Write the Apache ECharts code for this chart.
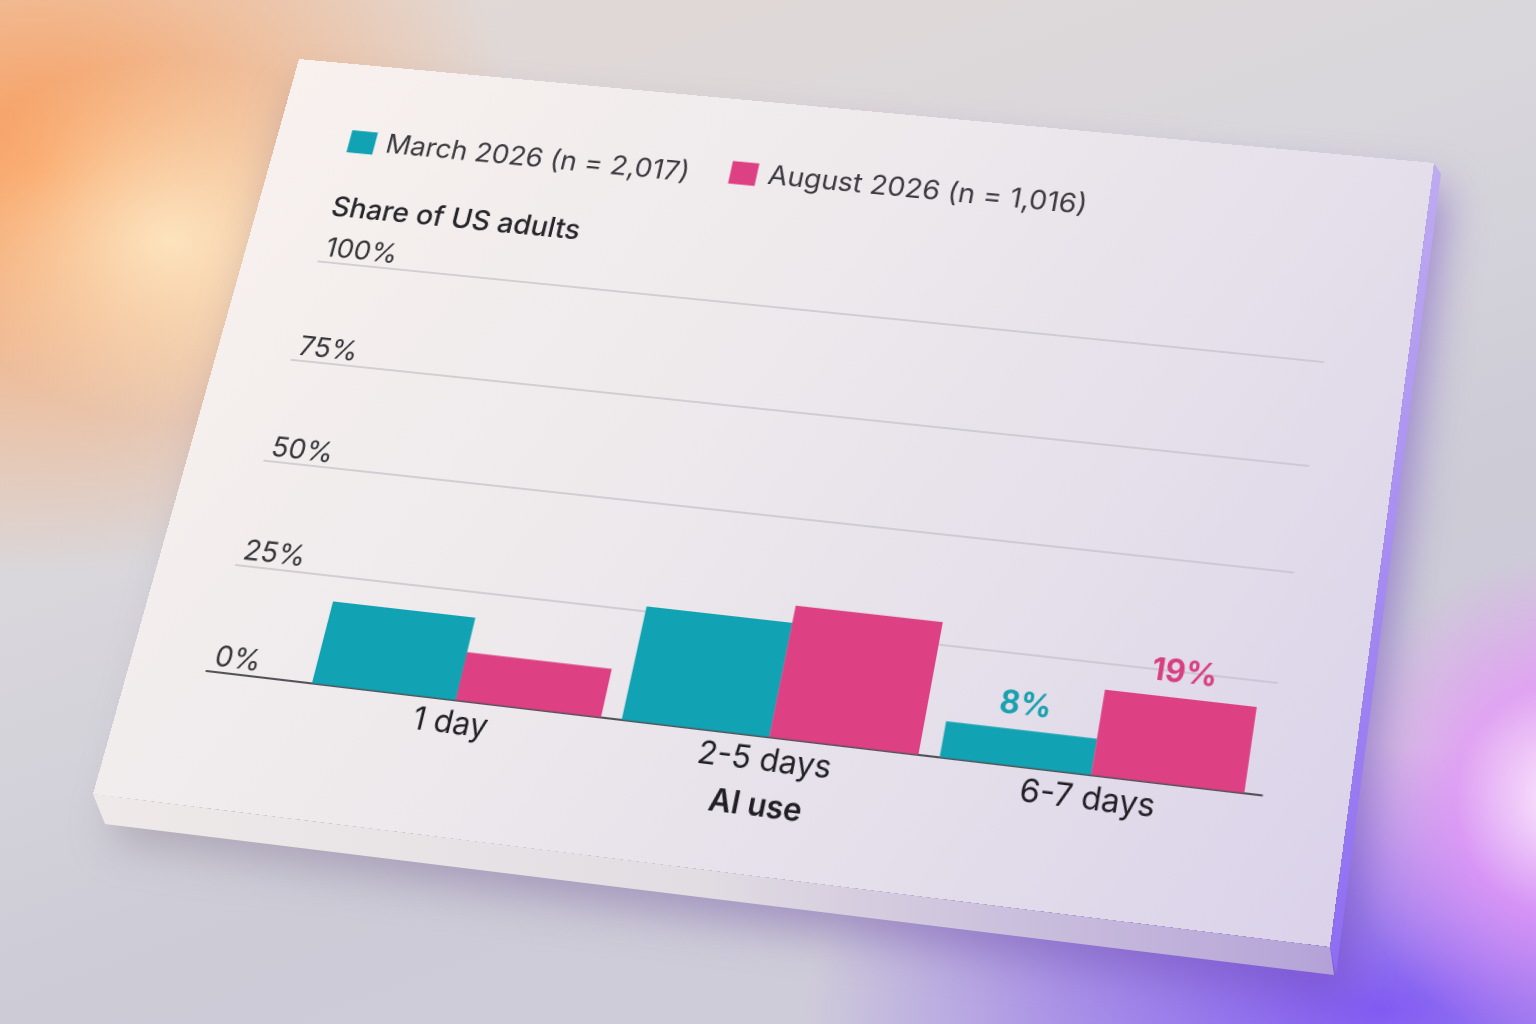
<!DOCTYPE html>
<html>
<head>
<meta charset="utf-8">
<script src="https://cdn.jsdelivr.net/npm/echarts@6/dist/echarts.min.js"></script>
<style>
html,body{margin:0;padding:0;width:1536px;height:1024px;overflow:hidden;}
body{
  position:relative;
  background:
    radial-gradient(ellipse 330px 260px at 170px 240px, rgba(255,236,200,0.85), rgba(255,220,170,0) 70%),
    radial-gradient(ellipse 620px 520px at 40px 170px, rgba(250,150,80,0.95), rgba(250,170,110,0.55) 40%, rgba(240,190,160,0) 78%),
    radial-gradient(ellipse 300px 330px at 1560px 800px, rgba(255,235,255,0.95), rgba(230,150,250,0.75) 35%, rgba(200,140,250,0) 75%),
    radial-gradient(ellipse 720px 330px at 1380px 1010px, rgba(125,85,245,0.95), rgba(140,100,240,0.55) 45%, rgba(160,130,235,0) 80%),
    linear-gradient(160deg, #e4d9d3 0%, #d9d7dc 38%, #cccbd6 65%, #d2cddd 100%);
}
#shadowWrap{position:absolute;left:0;top:0;width:1536px;height:1024px;filter:blur(22px);}
#shadow{position:absolute;left:0;top:0;width:1536px;height:1024px;
  clip-path:polygon(300px 90px,1445px 190px,1345px 1000px,110px 840px);
  background:linear-gradient(to right, rgba(120,110,110,0.35), rgba(110,70,200,0.6));}
#edgeB{position:absolute;left:0;top:0;width:1536px;height:1024px;
  clip-path:polygon(93px 794px,1330px 947px,1334px 975px,105px 824px);
  background:linear-gradient(to right,#f1ecea 0%,#e2dde2 45%,#b6a5d8 85%,#9a84dc 100%);}
#edgeR{position:absolute;left:0;top:0;width:1536px;height:1024px;
  clip-path:polygon(1434px 163px,1441px 174px,1336px 974px,1330px 947px);
  background:linear-gradient(#c8b8f0,#8a68f2);}
#card{position:absolute;left:0;top:0;width:1200px;height:780px;transform-origin:0 0;
  background:linear-gradient(118deg,#f8f1ee 0%,#eeeaec 40%,#e4dfea 72%,#dbd2ea 100%);}
#chart{position:absolute;left:0;top:0;width:1200px;height:780px;}
</style>
</head>
<body>
<div id="shadowWrap"><div id="shadow"></div></div>
<div id="edgeB"></div>
<div id="edgeR"></div>
<div id="card"><div id="chart"></div></div>
<script>
// ---- data ----
const categories = ['1 day', '2-5 days', '6-7 days'];
const seriesNames = ['March 2026 (n = 2,017)', 'August 2026 (n = 1,016)'];
const marchValues = [19, 26, 8];
const augustValues = [11, 30, 19];
const yTicks = [0, 25, 50, 75, 100];
const labeledCategory = '6-7 days';
const yAxisTitle = 'Share of US adults';
const xAxisTitle = 'AI use';

// ---- layout (card plane seen in perspective) ----
const CW = 1200, CH = 780;
const cardCorners = [[299, 59], [1434, 163], [1330, 947], [93, 794]];
const anchors = {
  gridTL: [315, 263], gridTR: [1322, 359], gridBR: [1265, 793], gridBL: [208, 673],
  firstBarLeft: [312, 683], lastBarRight: [1245, 789], gapLeft: [597, 716], gapRight: [618, 717],
  legend1: [350, 139], legend2: [731, 170],
  yTitle: [332, 207], catLabel: [758, 760], xTitle: [752, 806]
};

function solve(A, b) {
  const n = b.length;
  const M = A.map((r, i) => r.concat([b[i]]));
  for (let c = 0; c < n; c++) {
    let p = c;
    for (let r = c + 1; r < n; r++) if (Math.abs(M[r][c]) > Math.abs(M[p][c])) p = r;
    const t = M[c]; M[c] = M[p]; M[p] = t;
    for (let r = 0; r < n; r++) {
      if (r === c) continue;
      const f = M[r][c] / M[c][c];
      for (let k = c; k <= n; k++) M[r][k] -= f * M[c][k];
    }
  }
  return M.map((row, i) => row[n] / row[i]);
}
function homog(src, dst) {
  const A = [], b = [];
  for (let i = 0; i < 4; i++) {
    const [x, y] = src[i], [u, v] = dst[i];
    A.push([x, y, 1, 0, 0, 0, -u * x, -u * y]); b.push(u);
    A.push([0, 0, 0, x, y, 1, -v * x, -v * y]); b.push(v);
  }
  const h = solve(A, b); h.push(1); return h;
}
function applyH(h, p) {
  const x = p[0], y = p[1];
  const w = h[6] * x + h[7] * y + h[8];
  return [(h[0] * x + h[1] * y + h[2]) / w, (h[3] * x + h[4] * y + h[5]) / w];
}
const localCorners = [[0, 0], [CW, 0], [CW, CH], [0, CH]];
const H = homog(localCorners, cardCorners);
const Hinv = homog(cardCorners, localCorners);
document.getElementById('card').style.transform =
  `matrix3d(${H[0]},${H[3]},0,${H[6]},${H[1]},${H[4]},0,${H[7]},0,0,1,0,${H[2]},${H[5]},0,${H[8]})`;

const P = {};
for (const k in anchors) P[k] = applyH(Hinv, anchors[k]);
const gridLeft = (P.gridTL[0] + P.gridBL[0]) / 2;
const gridRight = (P.gridTR[0] + P.gridBR[0]) / 2;
const gridTop = (P.gridTL[1] + P.gridTR[1]) / 2;
const gridBottom = (P.gridBL[1] + P.gridBR[1]) / 2;
const gap = P.gapRight[0] - P.gapLeft[0];
const plotLeft = P.firstBarLeft[0] - gap / 2;
const plotRight = P.lastBarRight[0] + gap / 2;
const plotW = plotRight - plotLeft;
const gapPct = (gap / (plotW / 3) * 100).toFixed(1) + '%';

const TEAL = '#11a3b3', PINK = '#de4183';
const FONT = 'Inter, "Noto Sans", sans-serif';
const LEG_H = 25;

const chart = echarts.init(document.getElementById('chart'), null, { renderer: 'canvas', devicePixelRatio: 2 });
const labelIdx = categories.indexOf(labeledCategory);
const mk = vals => vals.map((v, i) => ({ value: v, label: { show: i === labelIdx } }));
const legendText = { fontSize: 29.5, color: '#3b3a40', padding: [0, 0, 0, 7], lineHeight: LEG_H, fontFamily: FONT };

chart.setOption({
  animation: false,
  textStyle: { fontFamily: FONT },
  legend: [
    { data: [seriesNames[0]], left: P.legend1[0], top: P.legend1[1] - LEG_H / 2, icon: 'rect', itemWidth: 28, itemHeight: LEG_H, padding: 0, textStyle: legendText },
    { data: [seriesNames[1]], left: P.legend2[0], top: P.legend2[1] - LEG_H / 2, icon: 'rect', itemWidth: 28, itemHeight: LEG_H, padding: 0, textStyle: legendText }
  ],
  graphic: [{
    type: 'text', x: P.yTitle[0], y: P.yTitle[1],
    style: { text: yAxisTitle, fontSize: 30, fontWeight: 500, fill: '#26262b', fontFamily: FONT, align: 'left', verticalAlign: 'middle' }
  }],
  grid: [
    { left: plotLeft, right: CW - plotRight, top: gridTop, bottom: CH - gridBottom },
    { left: gridLeft, right: CW - gridRight, top: gridTop, bottom: CH - gridBottom }
  ],
  xAxis: [
    { type: 'category', gridIndex: 0, data: categories,
      axisLine: { show: false }, axisTick: { show: false },
      axisLabel: { fontSize: 31, color: '#1f1f24', margin: P.catLabel[1] - gridBottom, verticalAlign: 'middle', fontFamily: FONT },
      name: xAxisTitle, nameLocation: 'middle', nameGap: P.xTitle[1] - gridBottom,
      nameTextStyle: { fontSize: 30, fontWeight: 600, color: '#1f1f24', verticalAlign: 'middle', fontFamily: FONT } },
    { type: 'value', gridIndex: 1, min: 0, max: 1, show: true,
      axisLine: { show: true, onZero: false, lineStyle: { color: '#525259', width: 2 } },
      axisTick: { show: false }, axisLabel: { show: false }, splitLine: { show: false } }
  ],
  yAxis: [
    { type: 'value', gridIndex: 0, min: yTicks[0], max: yTicks[yTicks.length - 1], interval: yTicks[1] - yTicks[0], show: false, splitLine: { show: false } },
    { type: 'value', gridIndex: 1, min: yTicks[0], max: yTicks[yTicks.length - 1], interval: yTicks[1] - yTicks[0],
      axisLine: { show: false }, axisTick: { show: false },
      axisLabel: { inside: true, align: 'left', verticalAlign: 'bottom', margin: 5, fontSize: 29, color: '#35353a', formatter: '{value}%', fontFamily: FONT },
      splitLine: { lineStyle: { color: '#c6c3cb', width: 1.5 } } }
  ],
  series: [
    { name: seriesNames[0], type: 'bar', xAxisIndex: 0, yAxisIndex: 0, data: mk(marchValues),
      itemStyle: { color: TEAL }, barGap: '0%', barCategoryGap: gapPct,
      label: { show: false, position: 'top', distance: 9, fontSize: 30, fontWeight: 700, color: '#18a0ae', formatter: '{c}%', fontFamily: FONT } },
    { name: seriesNames[1], type: 'bar', xAxisIndex: 0, yAxisIndex: 0, data: mk(augustValues),
      itemStyle: { color: PINK }, barGap: '0%', barCategoryGap: gapPct,
      label: { show: false, position: 'top', distance: 9, fontSize: 30, fontWeight: 700, color: '#d83f80', formatter: '{c}%', fontFamily: FONT } }
  ]
});
</script>
</body>
</html>
